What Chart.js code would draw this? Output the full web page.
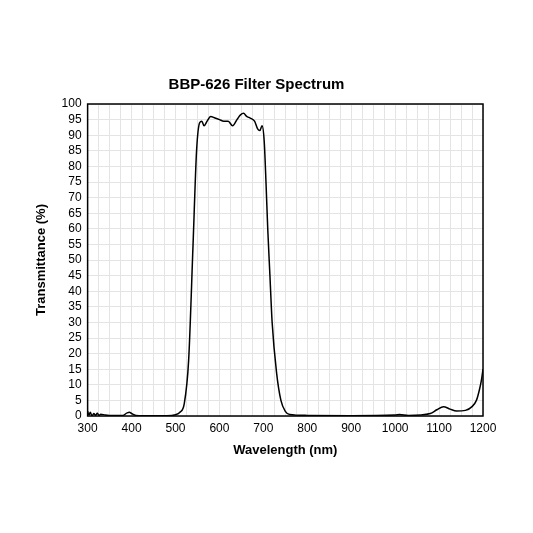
<!DOCTYPE html>
<html>
<script src="https://cdn.jsdelivr.net/npm/chart.js@4.4.0/dist/chart.umd.min.js"></script>
<body style="margin:0;background:#fff">
  <div style="width:533px;height:533px"><canvas id="myChart"></canvas></div>
  <script>
    var wavelength = [300, 303, 306, 310, 314, 318, 322, 326, 330, 340, 350, 380, 390, 395, 400, 410, 450, 480, 500, 510, 520, 530, 540, 548, 555, 560, 565, 572, 580, 590, 600, 610, 620, 630, 640, 648, 655, 662, 670, 680, 687, 692, 697, 702, 706, 710, 715, 720, 730, 740, 750, 760, 800, 900, 1000, 1010, 1030, 1080, 1095, 1110, 1125, 1140, 1160, 1175, 1185, 1192, 1197, 1200];
    var transmittance = [1.5, 0.3, 1.2, 0, 0.8, 0.2, 0.9, 0.2, 0.6, 0.3, 0.2, 0.2, 1, 1.2, 0.8, 0.2, 0.1, 0.1, 0.4, 1.2, 4, 18, 55, 85, 94, 94.5, 93, 94.5, 96, 95.5, 95, 94.5, 94.5, 93, 95, 96.5, 97, 96, 95.5, 94.5, 92, 91.5, 93, 88, 75, 60, 45, 30, 14, 5, 1.5, 0.5, 0.2, 0.1, 0.3, 0.5, 0.2, 0.8, 2, 3, 2.2, 1.6, 1.8, 3, 5, 8.5, 12, 15];

    var points = [];
    for (var i = 0; i < wavelength.length; i++) {
      points.push({ x: wavelength[i], y: transmittance[i] });
    }

    var frame = {
      id: 'frame',
      afterDraw: function(chart) {
        var a = chart.chartArea, c = chart.ctx;
        c.save();
        c.strokeStyle = '#000';
        c.lineWidth = 1.5;
        c.strokeRect(a.left, a.top, a.right - a.left, a.bottom - a.top);
        c.restore();
      }
    };

    var ctx = document.getElementById("myChart").getContext("2d");
    new Chart(ctx, {
      type: 'line',
      data: {
        datasets: [{
          data: points,
          borderColor: "#000",
          borderWidth: 1.5,
          pointRadius: 0,
          cubicInterpolationMode: 'monotone',
          fill: false
        }]
      },
      plugins: [frame],
      options: {
        responsive: true,
        maintainAspectRatio: false,
        animation: false,
        layout: { padding: { left: 30, right: 50, top: 76, bottom: 71 } },
        plugins: {
          legend: { display: false },
          title: {
            display: true,
            text: 'BBP-626 Filter Spectrum',
            color: '#000',
            font: { family: 'Arial, Liberation Sans', size: 15, weight: 'bold' },
            padding: { bottom: 10 }
          }
        },
        scales: {
          x: {
            type: 'linear',
            min: 300,
            max: 1200,
            grid: { color: '#e4e4e4', drawTicks: false },
            border: { display: false },
            ticks: {
              stepSize: 25,
              autoSkip: false,
              maxRotation: 0,
              padding: 5,
              color: '#000',
              font: { family: 'Arial, Liberation Sans', size: 12 },
              callback: function(v) { return v % 100 === 0 ? v : ''; }
            },
            title: {
              display: true,
              text: 'Wavelength (nm)',
              color: '#000',
              font: { family: 'Arial, Liberation Sans', size: 13, weight: 'bold' },
              padding: { top: 2 }
            }
          },
          y: {
            min: 0,
            max: 100,
            grid: { color: '#e4e4e4', drawTicks: false },
            border: { display: false },
            ticks: {
              stepSize: 5,
              autoSkip: false,
              padding: 6,
              color: '#000',
              font: { family: 'Arial, Liberation Sans', size: 12 }
            },
            title: {
              display: true,
              text: 'Transmittance (%)',
              color: '#000',
              font: { family: 'Arial, Liberation Sans', size: 13, weight: 'bold' },
              padding: { bottom: 6 }
            }
          }
        }
      }
    });
  </script>
</body>
</html>
